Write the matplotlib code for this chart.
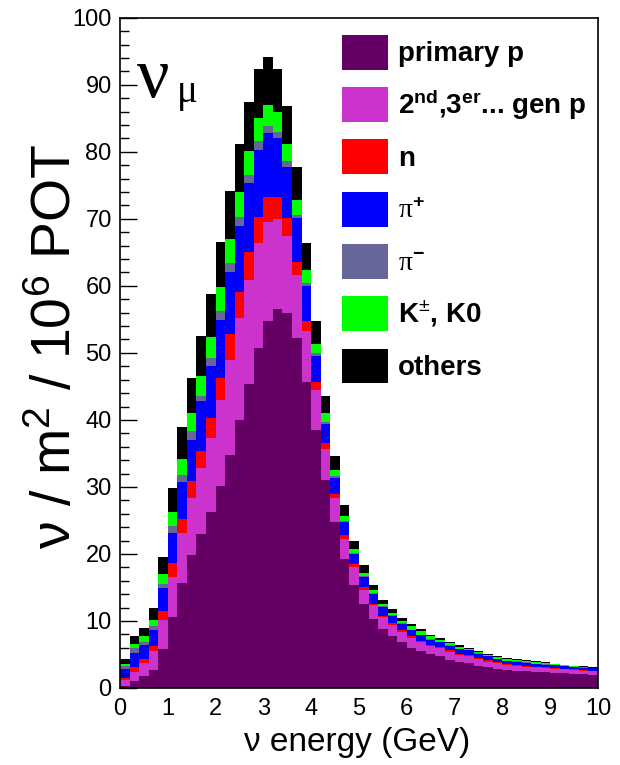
import numpy as np
import matplotlib
matplotlib.use("Agg")
import matplotlib.pyplot as plt
from matplotlib.ticker import MultipleLocator
from matplotlib.patches import Patch

# ---- data (neutrino flux per 0.2 GeV bin, stacked by parent) ----
bin_edges_gev = np.linspace(0, 10, 51)

primary_p = [0.3, 1.05, 1.8, 2.7, 5.8, 10.6, 15.7, 19.9, 23.0, 26.3,
             30.1, 34.8, 40.0, 45.4, 50.7, 54.7, 56.5, 55.9, 52.2, 45.7,
             38.5, 31.1, 24.8, 19.2, 15.4, 12.5, 10.3, 8.8, 7.7, 6.8,
             6.0, 5.5, 5.0, 4.7, 4.2, 3.9, 3.7, 3.3, 3.2, 2.9,
             2.7, 2.6, 2.5, 2.45, 2.4, 2.3, 2.2, 2.15, 2.1, 2.0]
secondary_p = [0.9, 1.4, 1.9, 2.8, 4.4, 6.0, 7.4, 8.4, 9.8, 11.0,
               12.9, 14.2, 15.2, 15.5, 15.7, 14.8, 13.5, 11.6, 9.4, 7.6,
               5.9, 4.5, 3.5, 3.1, 2.6, 2.1, 2.1, 1.8, 1.7, 1.5,
               1.4, 1.3, 1.3, 1.2, 1.2, 1.0, 1.0, 1.0, 0.7, 0.8,
               0.7, 0.7, 0.7, 0.65, 0.6, 0.6, 0.6, 0.55, 0.5, 0.5]
neutron = [0.25, 0.75, 0.6, 0.8, 1.3, 2.0, 2.1, 2.6, 2.6, 3.0,
           3.3, 3.8, 3.9, 4.2, 3.9, 3.7, 3.2, 2.6, 2.0, 1.5,
           1.3, 0.9, 0.7, 0.5, 0.5, 0.5, 0.2, 0.2, 0.3, 0.3,
           0.3, 0.2, 0.1, 0.2, 0.2, 0.2, 0.2, 0.2, 0.2, 0.1,
           0.15, 0.15, 0.1, 0.1, 0.1, 0.1, 0.1, 0.1, 0.1, 0.1]
pi_plus = [1.35, 2.0, 2.1, 2.4, 3.4, 4.5, 5.6, 6.1, 7.4, 7.7,
           8.6, 9.2, 9.9, 10.2, 10.0, 9.6, 8.8, 7.7, 6.5, 5.2,
           3.9, 2.9, 2.4, 1.9, 1.5, 1.5, 1.4, 1.3, 1.1, 1.0,
           0.9, 0.9, 0.8, 0.7, 0.7, 0.7, 0.7, 0.6, 0.6, 0.5,
           0.45, 0.45, 0.45, 0.4, 0.4, 0.4, 0.4, 0.35, 0.35, 0.35]
pi_minus = [0.5, 0.7, 0.4, 0.6, 0.6, 1.0, 1.0, 1.3, 0.7, 1.2,
            1.3, 1.4, 1.3, 1.3, 1.3, 1.1, 1.0, 0.8, 0.5, 0.4,
            0.4, 0.3, 0.2, 0.2, 0.1, 0.1, 0.1, 0.1, 0.1, 0.05,
            0.05, 0.05, 0.05, 0.05, 0.05, 0.05, 0.05, 0.05, 0.05, 0.05,
            0.05, 0.05, 0.05, 0.05, 0.05, 0.05, 0.05, 0.05, 0.05, 0.05]
kaons = [0.3, 0.7, 0.9, 0.9, 1.5, 2.1, 2.3, 2.7, 3.0, 3.2,
         3.6, 3.6, 3.7, 3.5, 3.4, 3.1, 2.9, 2.5, 2.2, 2.0,
         1.3, 1.3, 0.9, 0.8, 0.7, 0.5, 0.5, 0.4, 0.3, 0.35,
         0.55, 0.55, 0.45, 0.35, 0.35, 0.25, 0.2, 0.2, 0.15, 0.2,
         0.2, 0.2, 0.2, 0.2, 0.15, 0.1, 0.1, 0.1, 0.1, 0.05]
others = [0.7, 1.1, 1.3, 1.7, 2.5, 3.6, 4.8, 5.3, 6.0, 6.4,
          6.7, 7.2, 7.2, 7.4, 7.3, 7.2, 6.5, 5.8, 4.9, 4.0,
          3.5, 2.6, 2.1, 1.6, 1.2, 1.1, 0.7, 0.6, 0.6, 0.5,
          0.3, 0.3, 0.2, 0.2, 0.2, 0.3, 0.15, 0.15, 0.1, 0.15,
          0.15, 0.15, 0.1, 0.1, 0.1, 0.1, 0.05, 0.05, 0.05, 0.05]

labels = ["primary p", r"2$^{\mathbf{nd}}$,3$^{\mathbf{er}}$... gen p", "n",
          "π$^{\\mathbf{+}}$", "π$^{\\mathbf{-}}$", r"K$^{\pm}$, K0", "others"]
colors = ["#640064", "#cc33cc", "#ff0000", "#0000ff", "#666699", "#00ff00", "#000000"]
series = [primary_p, secondary_p, neutron, pi_plus, pi_minus, kaons, others]

# ---- figure ----
plt.rcParams['font.family'] = ['Liberation Sans', 'DejaVu Sans']
plt.rcParams['mathtext.fontset'] = 'custom'
plt.rcParams['mathtext.rm'] = 'Liberation Sans'
plt.rcParams['mathtext.bf'] = 'Liberation Sans:bold'
plt.rcParams['mathtext.it'] = 'Liberation Sans:italic'

fig = plt.figure(figsize=(6.2, 7.65), dpi=100)
ax = fig.add_axes([0.1935, 0.1007, 0.771, 0.876])

base = np.zeros(len(primary_p))
for vals, col in zip(series, colors):
    vals = np.asarray(vals, dtype=float)
    ax.stairs(base + vals, bin_edges_gev, baseline=base, fill=True,
              color=col, linewidth=0)
    base = base + vals

ax.set_xlim(0, 10)
ax.set_ylim(0, 100)
ax.xaxis.set_major_locator(MultipleLocator(1))
ax.yaxis.set_major_locator(MultipleLocator(10))
ax.yaxis.set_minor_locator(MultipleLocator(2))
ax.tick_params(axis='y', which='major', direction='in', length=12, width=1.0,
               labelsize=17, pad=6)
ax.tick_params(axis='y', which='minor', direction='in', length=6.5, width=1.0)
ax.tick_params(axis='x', which='major', direction='in', length=0, labelsize=17, pad=7)
for s in ax.spines.values():
    s.set_linewidth(1.2)

ax.set_xlabel("ν energy (GeV)", fontsize=24)
ax.xaxis.set_label_coords(0.496, -0.058)
ax.xaxis.label.set_va('top')
ax.set_ylabel("ν / m$^{2}$ / 10$^{6}$ POT", fontsize=40)
ax.yaxis.set_label_coords(-0.077, 0.51)

ax.text(0.0356, 0.882, "ν", transform=ax.transAxes, fontsize=52,
        family=['Liberation Serif', 'DejaVu Serif'], va='baseline', ha='left')
ax.text(0.118, 0.874, "μ", transform=ax.transAxes, fontsize=28,
        family=['Liberation Serif', 'DejaVu Serif'], va='baseline', ha='left')

handles = [Patch(facecolor=c, edgecolor='none', label=l) for c, l in zip(colors, labels)]
leg = ax.legend(handles=handles, loc='upper left', bbox_to_anchor=(0.4644, 0.9746),
                frameon=False, borderpad=0, borderaxespad=0,
                prop={'weight': 'bold', 'size': 20},
                handlelength=1.65, handleheight=1.55, labelspacing=0.63,
                handletextpad=0.36)
for i in (3, 4):
    t = leg.get_texts()[i]
    t.set_fontweight('normal')
    t.set_family(['Liberation Serif', 'DejaVu Serif'])

fig.savefig("out.png", dpi=100)
